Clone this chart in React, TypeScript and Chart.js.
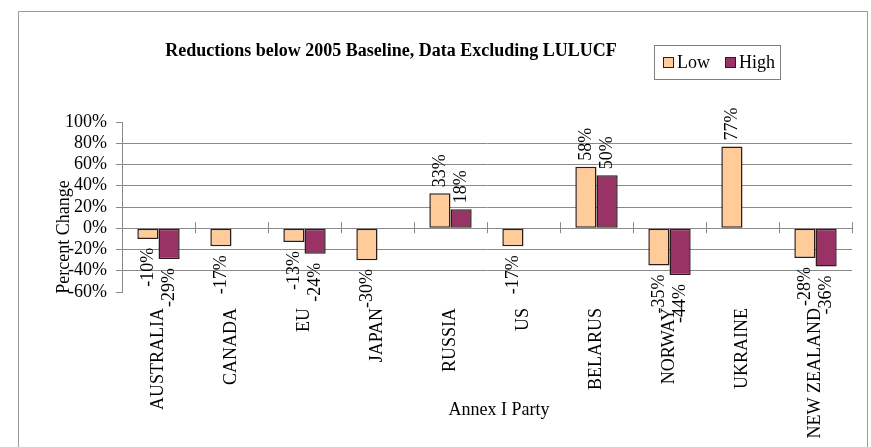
import React, { useEffect, useRef } from "react";
import { Chart, registerables } from "chart.js";

Chart.register(...registerables);

const categories = ["AUSTRALIA", "CANADA", "EU", "JAPAN", "RUSSIA", "US", "BELARUS", "NORWAY", "UKRAINE", "NEW ZEALAND"];
const lowValues: (number | null)[] = [-10, -17, -13, -30, 33, -17, 58, -35, 77, -28];
const highValues: (number | null)[] = [-29, null, -24, null, 18, null, 50, -44, null, -36];
const seriesNames = ["Low", "High"];
const yMin = -60;
const yMax = 100;
const yStep = 20;
const chartTitle = "Reductions below 2005 Baseline, Data Excluding LULUCF";
const xTitle = "Annex I Party";
const yTitle = "Percent Change";

const FONT = "'Liberation Serif', 'Times New Roman', serif";
const LOW_COLOR = "#FFCC99";
const HIGH_COLOR = "#993366";
const BORDER = "#2e1c1c";
const GRID = "#8a8a8a";

const decorPlugin = {
  id: "decor",
  afterDatasetsDraw(chart: any) {
    const ctx = chart.ctx;
    const xs = chart.scales.x;
    const ys = chart.scales.y;
    const y0 = ys.getPixelForValue(0);
    ctx.save();
    // zero-line category ticks
    ctx.strokeStyle = GRID;
    ctx.lineWidth = 1;
    for (let i = 0; i < categories.length; i++) {
      const xb = Math.round(xs.getPixelForValue(i) + (xs.getPixelForValue(1) - xs.getPixelForValue(0)) / 2) + 0.5;
      ctx.beginPath();
      ctx.moveTo(xb, y0 - 6);
      ctx.lineTo(xb, y0 + 5);
      ctx.stroke();
    }
    // data labels
    ctx.fillStyle = "#000";
    ctx.font = `18px ${FONT}`;
    ctx.textBaseline = "middle";
    chart.data.datasets.forEach((ds: any, di: number) => {
      const meta = chart.getDatasetMeta(di);
      meta.data.forEach((el: any, i: number) => {
        const v = ds.data[i];
        if (v === null || v === undefined) return;
        const label = `${v}%`;
        ctx.save();
        if (v >= 0) {
          ctx.translate(el.x, el.y - 6);
          ctx.rotate(-Math.PI / 2);
          ctx.textAlign = "left";
        } else {
          ctx.translate(el.x, el.y + 9);
          ctx.rotate(-Math.PI / 2);
          ctx.textAlign = "right";
        }
        ctx.fillText(label, 0, 0);
        ctx.restore();
      });
    });
    ctx.restore();
  },
  afterDraw(chart: any) {
    const ctx = chart.ctx;
    ctx.save();
    // outer border
    ctx.strokeStyle = "#9a9a9a";
    ctx.lineWidth = 1;
    ctx.beginPath();
    ctx.moveTo(18.5, 460);
    ctx.lineTo(18.5, 11.5);
    ctx.lineTo(867.5, 11.5);
    ctx.lineTo(867.5, 460);
    ctx.stroke();
    // title
    ctx.fillStyle = "#000";
    ctx.font = `bold 18px ${FONT}`;
    ctx.textAlign = "center";
    ctx.textBaseline = "middle";
    ctx.fillText(chartTitle, 391, 51);
    // legend
    ctx.strokeStyle = "#808080";
    ctx.strokeRect(654.5, 45.5, 126, 34);
    const items = [
      { name: seriesNames[0], color: LOW_COLOR, x: 663 },
      { name: seriesNames[1], color: HIGH_COLOR, x: 725 },
    ];
    ctx.font = `18px ${FONT}`;
    ctx.textAlign = "left";
    items.forEach((it) => {
      ctx.fillStyle = it.color;
      ctx.fillRect(it.x + 0.5, 57.5, 10, 10);
      ctx.strokeStyle = BORDER;
      ctx.strokeRect(it.x + 0.5, 57.5, 10, 10);
      ctx.fillStyle = "#000";
      ctx.fillText(it.name, it.x + 14, 63);
    });
    // axis titles
    ctx.textAlign = "center";
    ctx.fillText(xTitle, 499, 410);
    ctx.save();
    ctx.translate(64, 237);
    ctx.rotate(-Math.PI / 2);
    ctx.fillText(yTitle, 0, 0);
    ctx.restore();
    ctx.restore();
  },
};

export default function App() {
  const ref = useRef<HTMLCanvasElement | null>(null);
  useEffect(() => {
    if (!ref.current) return;
    const chart = new Chart(ref.current, {
      type: "bar",
      data: {
        labels: categories,
        datasets: [
          {
            label: seriesNames[0],
            data: lowValues,
            backgroundColor: LOW_COLOR,
            borderColor: BORDER,
            borderWidth: 1.5,
            borderSkipped: false,
            categoryPercentage: 0.58,
            barPercentage: 1,
          },
          {
            label: seriesNames[1],
            data: highValues,
            backgroundColor: HIGH_COLOR,
            borderColor: BORDER,
            borderWidth: 1.5,
            borderSkipped: false,
            categoryPercentage: 0.58,
            barPercentage: 1,
          },
        ],
      },
      options: {
        animation: false,
        responsive: false,
        maintainAspectRatio: false,
        devicePixelRatio: 1,
        layout: { padding: { left: 0, top: 122, right: 19, bottom: 0 } },
        plugins: {
          legend: { display: false },
          title: { display: false },
          tooltip: { enabled: false },
        },
        scales: {
          x: {
            type: "category",
            offset: true,
            grid: { display: false, drawTicks: false },
            border: { display: false },
            ticks: {
              autoSkip: false,
              maxRotation: 90,
              minRotation: 90,
              padding: 16,
              color: "#000",
              font: { family: FONT, size: 18 },
            },
            afterFit: (s: any) => {
              s.height = 155;
            },
          },
          y: {
            min: yMin,
            max: yMax,
            ticks: {
              stepSize: yStep,
              autoSkip: false,
              color: "#000",
              padding: 9,
              font: { family: FONT, size: 18 },
              callback: (v: any) => `${v}%`,
            },
            grid: {
              color: (c: any) => (c.tick && (c.tick.value === yMax || c.tick.value === yMin) ? "rgba(0,0,0,0)" : GRID),
              tickColor: GRID,
              tickLength: 6,
              lineWidth: 1,
            },
            border: { display: true, color: GRID },
            afterFit: (s: any) => {
              s.width = 122;
            },
          },
        },
      },
      plugins: [decorPlugin],
    });
    return () => chart.destroy();
  }, []);
  return (
    <div style={{ position: "absolute", left: 0, top: 0, width: 871, height: 447, background: "#fff" }}>
      <canvas ref={ref} width={871} height={447} style={{ width: 871, height: 447, display: "block" }} />
    </div>
  );
}
